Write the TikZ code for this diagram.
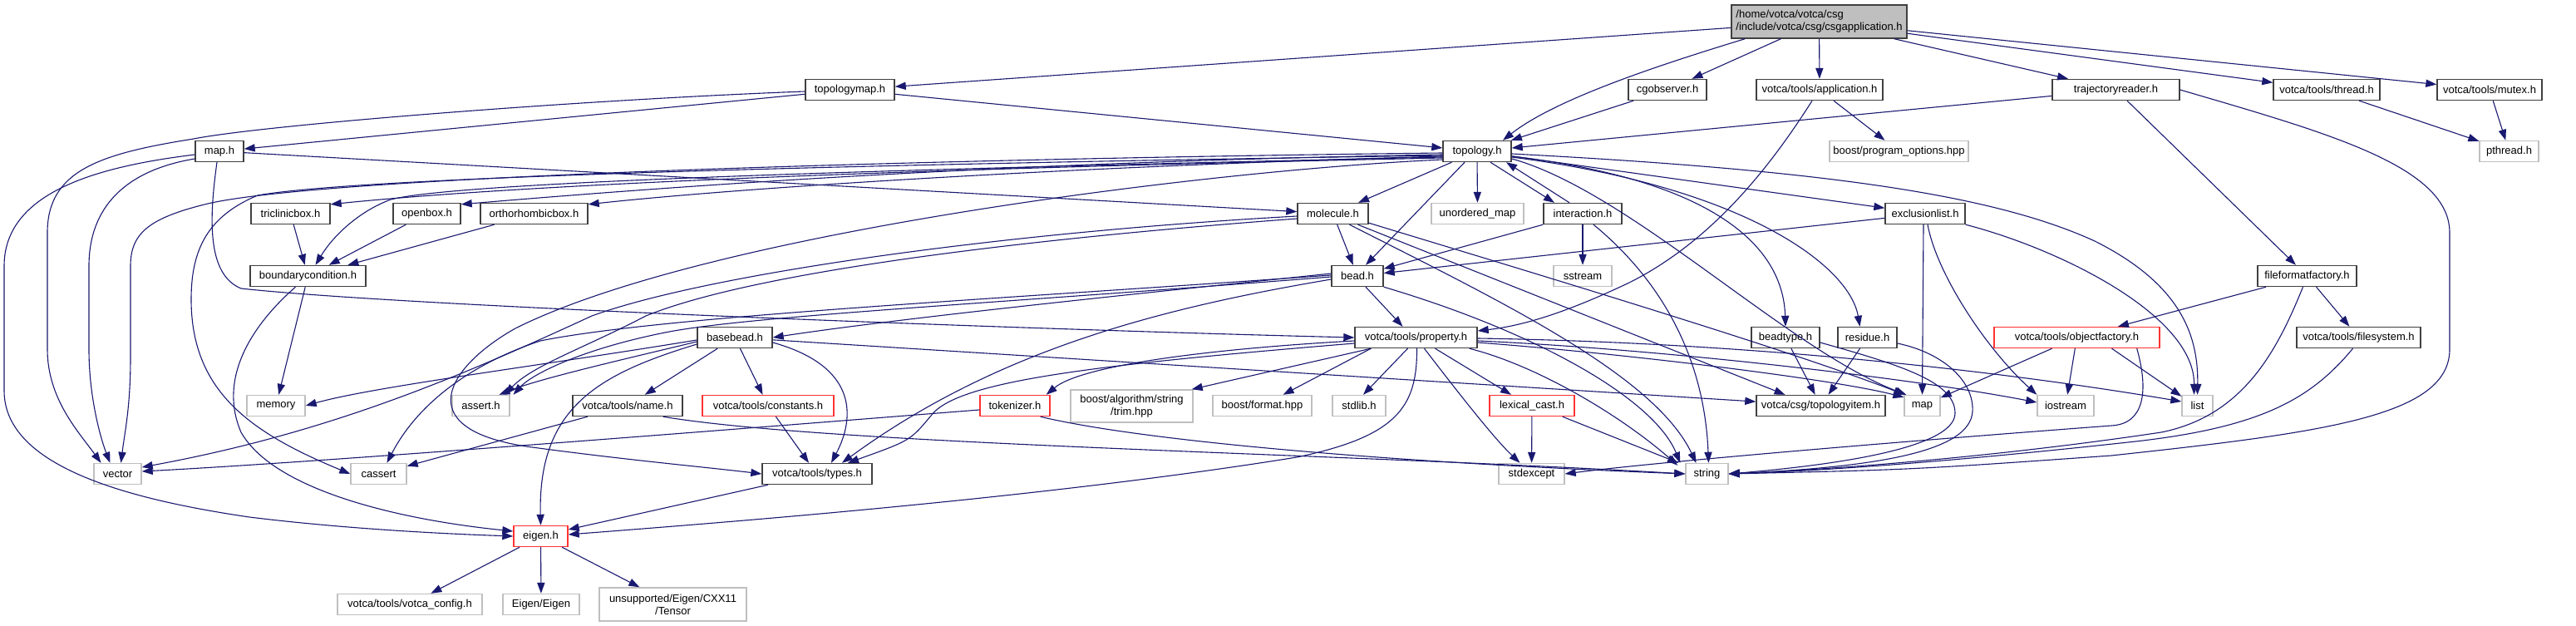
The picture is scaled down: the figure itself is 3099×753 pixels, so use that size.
\documentclass[tikz,border=0pt]{standalone}
\usepackage{fontspec}
\setmainfont{Liberation Sans}
\usetikzlibrary{arrows.meta,calc}
\definecolor{edgec}{HTML}{191970}
\definecolor{grayb}{HTML}{BFBFBF}
\definecolor{darkb}{HTML}{404040}
\definecolor{fillg}{HTML}{BFBFBF}
\definecolor{redb}{HTML}{FF3333}
\begin{document}
\begin{tikzpicture}[x=0.5pt,y=-0.5pt,
  nbase/.style={rectangle, inner sep=0pt, minimum height=12.5pt, font=\fontsize{6.5}{7.5}\selectfont, line width=0.7pt, fill=white},
  blk/.style={nbase, draw=darkb},
  gry/.style={nbase, draw=grayb},
  rdb/.style={nbase, draw=redb},
  bw/.style={minimum width=#1*0.5pt},
  dep/.style={draw=edgec, line width=0.55pt, -{Triangle[length=6.5pt,width=4.6pt]}},
]
\useasboundingbox[fill=white] (0,0) rectangle (3099,753);
% ---------------- nodes
\node[blk, fill=fillg, bw=211, minimum height=20pt, align=left] (csgapp) at (2188.5,26) {/home/votca/votca/csg\\/include/votca/csg/csgapplication.h};
\node[blk, bw=107] (tmap) at (1022.5,108) {topologymap.h};
\node[blk, bw=94] (cgobs) at (2006,108) {cgobserver.h};
\node[blk, bw=152] (app) at (2189,108) {votca/tools/application.h};
\node[blk, bw=153] (trajr) at (2545.5,108) {trajectoryreader.h};
\node[blk, bw=128] (thread) at (2799,108) {votca/tools/thread.h};
\node[blk, bw=126] (mutex) at (2995,108) {votca/tools/mutex.h};
\node[blk, bw=58] (maph) at (264,182) {map.h};
\node[blk, bw=82] (topo) at (1777,182) {topology.h};
\node[gry, bw=167] (progopt) at (2284.5,182) {boost/program\_options.hpp};
\node[gry, bw=71] (pthread) at (3018.5,182) {pthread.h};
\node[blk, bw=95] (tricl) at (349.5,257) {triclinicbox.h};
\node[blk, bw=81] (openbox) at (513.5,257) {openbox.h};
\node[blk, bw=129] (ortho) at (642.5,257) {orthorhombicbox.h};
\node[blk, bw=85] (molec) at (1603.5,257) {molecule.h};
\node[gry, bw=111] (umap) at (1777.5,257) {unordered\_map};
\node[blk, bw=94] (inter) at (1904,257) {interaction.h};
\node[blk, bw=96] (excl) at (2316,257) {exclusionlist.h};
\node[blk, bw=139] (bc) at (370.5,332) {boundarycondition.h};
\node[blk, bw=62] (bead) at (1633,332) {bead.h};
\node[gry, bw=70] (sstream) at (1904,332) {sstream};
\node[blk, bw=119] (fff) at (2775.5,332) {fileformatfactory.h};
\node[blk, bw=90] (basebead) at (884,406) {basebead.h};
\node[blk, bw=147] (prop) at (1703.5,406) {votca/tools/property.h};
\node[blk, bw=82] (beadtype) at (2148,406) {beadtype.h};
\node[blk, bw=71] (residue) at (2246.5,406) {residue.h};
\node[rdb, bw=199] (objf) at (2498.5,406) {votca/tools/objectfactory.h};
\node[blk, bw=149] (fs) at (2837.5,406) {votca/tools/filesystem.h};
\node[gry, bw=70] (memory) at (332,488) {memory};
\node[gry, bw=69] (asserth) at (578.5,488) {assert.h};
\node[blk, bw=132] (name) at (755,488) {votca/tools/name.h};
\node[rdb, bw=158] (consth) at (924,488) {votca/tools/constants.h};
\node[rdb, bw=84] (tok) at (1221,488) {tokenizer.h};
\node[gry, bw=147, minimum height=19.5pt, align=center] (trim) at (1361.5,488.5) {boost/algorithm/string\\/trim.hpp};
\node[gry, bw=119] (fmt) at (1518.5,488) {boost/format.hpp};
\node[gry, bw=64] (stdlib) at (1635,488) {stdlib.h};
\node[rdb, bw=102] (lex) at (1843,488) {lexical\_cast.h};
\node[blk, bw=155] (titem) at (2190.5,488) {votca/csg/topologyitem.h};
\node[gry, bw=43] (mapstd) at (2312.5,488) {map};
\node[gry, bw=68] (iostream) at (2485,488) {iostream};
\node[gry, bw=37] (list) at (2643.5,488) {list};
\node[gry, bw=57] (vector) at (141.5,570) {vector};
\node[gry, bw=67] (cassert) at (455.5,570) {cassert};
\node[blk, bw=132] (types) at (983,570) {votca/tools/types.h};
\node[gry, bw=79] (stdexc) at (1842.5,570) {stdexcept};
\node[gry, bw=51] (string) at (2053.5,570) {string};
\node[rdb, bw=65] (eigen) at (650.5,645) {eigen.h};
\node[gry, bw=174] (vconf) at (493,727) {votca/tools/votca\_config.h};
\node[gry, bw=92] (eigeneigen) at (651,727) {Eigen/Eigen};
\node[gry, bw=177, minimum height=20pt, align=center] (tensor) at (809.5,727) {unsupported/Eigen/CXX11\\/Tensor};
% ---------------- edges
% csgapplication.h
\draw[dep] (csgapp) -- (tmap);
\draw[dep] ($(csgapp.south west)+(17,0)$) .. controls (1990,80) and (1870,120) .. ($(topo.north)+(31,0)$);
\draw[dep] (csgapp) -- (cgobs);
\draw[dep] (csgapp) -- (app);
\draw[dep] (csgapp) -- (trajr);
\draw[dep] (csgapp) -- (thread);
\draw[dep] (csgapp) -- (mutex);
% topologymap.h
\draw[dep] (tmap) -- (maph);
\draw[dep] (tmap) -- (topo);
\draw[dep] ($(tmap.west)+(0,2)$) .. controls (700,120) and (320,150) .. (233,167) .. controls (120,185) and (57,205) .. (57,280) -- (57,420) .. controls (57,480) and (95,520) .. ($(vector.north)+(-20,0)$);
% map.h
\draw[dep] (maph) -- (molec);
\draw[dep] ($(maph.west)+(0,4)$) .. controls (120,200) and (5,230) .. (5,320) -- (5,470) .. controls (5,560) and (150,600) .. (300,622) .. controls (430,638) and (560,643) .. (eigen.west);
\draw[dep] ($(maph.south)+(-3,0)$) .. controls (252,260) and (248,330) .. (290,347) .. controls (500,370) and (1300,398) .. (prop.west);
\draw[dep] ($(maph.west)+(0,9)$) .. controls (150,205) and (107,250) .. (107,320) -- (107,420) .. controls (107,480) and (122,530) .. ($(vector.north)+(-9,0)$);
% cgobserver, application, trajectoryreader, thread, mutex
\draw[dep] (cgobs) -- (topo);
\draw[dep] ($(app.south)+(-9,0)$) .. controls (2130,200) and (2060,290) .. (1960,340) .. controls (1880,378) and (1830,392) .. ($(prop.east)+(0,-8)$);
\draw[dep] (app) -- (progopt);
\draw[dep] (trajr) -- (topo);
\draw[dep] (trajr) -- (fff);
\draw[dep] (trajr.east) .. controls (2800,160) and (2947,200) .. (2947,280) -- (2947,420) .. controls (2947,500) and (2800,520) .. (2540,548) .. controls (2300,565) .. (string.east);
\draw[dep] (thread) -- (pthread);
\draw[dep] (mutex) -- (pthread);
% topology.h
\draw[dep] ($(topo.west)+(0,2)$) .. controls (1200,190) and (400,210) .. (250,245) .. controls (180,262) and (157,280) .. (157,320) -- (157,430) .. controls (157,490) and (150,520) .. ($(vector.north)+(4,0)$);
\draw[dep] ($(topo.west)+(0,5)$) .. controls (1200,195) and (450,210) .. (310,235) .. controls (250,260) and (230,300) .. (230,360) .. controls (230,470) and (300,520) .. (cassert.west);
\draw[dep] ($(topo.west)+(0,7)$) .. controls (1000,205) and (550,220) .. (470,240) .. controls (430,255) and (400,285) .. ($(bc.north)+(9,0)$);
\draw[dep] ($(topo.west)+(0,8)$) .. controls (1000,205) and (600,225) .. ($(tricl.north east)+(0,2)$);
\draw[dep] ($(topo.west)+(0,4)$) .. controls (1200,195) and (800,225) .. ($(openbox.north east)+(0,2)$);
\draw[dep] ($(topo.west)+(0,6)$) .. controls (1300,200) and (900,225) .. ($(ortho.north east)+(0,2)$);
\draw[dep] ($(topo.west)+(0,10)$) .. controls (1450,205) and (850,280) .. (620,395) .. controls (540,440) and (490,515) .. (633,537) .. controls (750,553) and (850,562) .. (types.west);
\draw[dep] (topo) -- (molec);
\draw[dep] ($(topo.south)+(-15,0)$) -- ($(bead.north)+(10,0)$);
\draw[dep] (topo) -- (umap);
\draw[dep] ($(topo.south)+(16,0)$) -- ($(inter.north)+(-34,0)$);
\draw[dep] (topo) -- (excl);
\draw[dep] ($(topo.east)+(0,6)$) .. controls (2050,215) and (2145,290) .. (beadtype.north);
\draw[dep] ($(topo.east)+(0,7)$) .. controls (2100,225) and (2225,320) .. ($(residue.north)+(-9,0)$);
\draw[dep] ($(topo.east)+(0,3)$) .. controls (2200,205) and (2400,235) .. (2520,290) .. controls (2620,340) and (2645,400) .. (list.north);
\draw[dep] ($(topo.east)+(0,9)$) .. controls (1960,230) and (2150,420) .. ($(mapstd.north west)+(3,0)$);
% interaction.h
\draw[dep] ($(inter.north)+(-16,0)$) -- ($(topo.south)+(35,0)$);
\draw[dep] (inter) -- (bead);
\draw[dep] (inter) -- (sstream);
\draw[dep] ($(inter.south)+(13,0)$) .. controls (1990,330) and (2050,420) .. ($(string.north)+(2,0)$);
% molecule.h
\draw[dep] (molec) -- (bead);
\draw[dep] ($(molec.west)+(0,3)$) .. controls (1200,280) and (850,330) .. (712,380) .. controls (560,450) and (400,520) .. ($(vector.east)+(0,-8)$);
\draw[dep] ($(molec.west)+(0,6)$) .. controls (1200,290) and (900,330) .. (777,380) .. controls (700,420) and (640,440) .. ($(asserth.north)+(29,0)$);
\draw[dep] ($(molec.south)+(20,0)$) .. controls (1800,360) and (1990,450) .. ($(string.north)+(-13,0)$);
\draw[dep] ($(molec.south)+(30,0)$) -- ($(titem.north)+(-43,0)$);
\draw[dep] ($(molec.south east)+(0,-2)$) .. controls (1850,330) and (2150,420) .. ($(mapstd.north west)+(1,0)$);
% bead.h
\draw[dep] ($(bead.west)+(0,-3)$) .. controls (1450,345) and (1100,380) .. (basebead.east);
\draw[dep] ($(bead.south)+(10,0)$) -- ($(prop.north)+(-16,0)$);
\draw[dep] ($(bead.west)+(0,4)$) .. controls (1400,370) and (1200,420) .. ($(types.north)+(30,0)$);
\draw[dep] ($(bead.west)+(0,-1)$) .. controls (1200,360) and (800,380) .. (650,410) .. controls (560,440) and (500,490) .. ($(cassert.north)+(10,0)$);
\draw[dep] ($(bead.west)+(0,1)$) .. controls (1200,365) and (900,380) .. (800,400) .. controls (700,420) and (640,450) .. ($(asserth.north)+(39,0)$);
\draw[dep] (bead.south east) .. controls (1850,400) and (1990,480) .. ($(string.north west)+(-6,0)$);
% exclusionlist.h
\draw[dep] (excl) -- (bead);
\draw[dep] ($(excl.south)+(-2,0)$) -- (mapstd.north);
\draw[dep] ($(excl.south)+(3,0)$) .. controls (2330,330) and (2390,420) .. (iostream.north west);
\draw[dep] (excl.south east) .. controls (2480,300) and (2640,380) .. ($(list.north)+(-4,0)$);
% beadtype, residue
\draw[dep] (beadtype) -- (titem);
\draw[dep] ($(beadtype.east)+(0,6)$) .. controls (2290,440) and (2352,460) .. (2352,497) .. controls (2352,540) and (2200,560) .. (string.east);
\draw[dep] (residue) -- (titem);
\draw[dep] ($(residue.east)+(0,7)$) .. controls (2340,425) and (2375,460) .. (2373,495) .. controls (2370,545) and (2250,562) .. (string.east);
% basebead.h
\draw[dep] (basebead) -- (titem);
\draw[dep] ($(basebead.east)+(0,6)$) .. controls (1030,440) and (1030,500) .. ($(types.north)+(17,0)$);
\draw[dep] ($(basebead.west)+(0,8)$) .. controls (720,450) and (647,490) .. (eigen.north);
\draw[dep] ($(basebead.west)+(0,5)$) .. controls (760,430) and (650,455) .. ($(asserth.north)+(22,0)$);
\draw[dep] ($(basebead.west)+(0,3)$) .. controls (650,440) and (450,465) .. (memory.east);
\draw[dep] (basebead) -- (name);
\draw[dep] (basebead) -- (consth);
% property.h
\draw[dep] ($(prop.west)+(0,4)$) .. controls (1450,420) and (1300,440) .. ($(tok.north east)+(-5,0)$);
\draw[dep] ($(prop.west)+(0,7)$) .. controls (1300,440) and (1150,460) .. (1120,500) .. controls (1095,530) .. ($(types.north)+(37,0)$);
\draw[dep] ($(prop.south west)+(20,0)$) -- ($(trim.north east)+(-2,0)$);
\draw[dep] ($(prop.south west)+(20,0)$) -- (fmt);
\draw[dep] ($(prop.south)+(-10,0)$) -- ($(stdlib.north)+(5,0)$);
\draw[dep] ($(prop.south)+(23,0)$) -- ($(lex.north)+(-25,0)$);
\draw[dep] ($(prop.south)+(10,0)$) .. controls (1760,480) and (1800,530) .. ($(stdexc.north)+(-14,0)$);
\draw[dep] ($(prop.south)+(1,0)$) .. controls (1705,490) and (1680,525) .. (1560,550) .. controls (1250,600) and (850,630) .. ($(eigen.east)+(0,-2)$);
\draw[dep] ($(prop.south east)+(-10,0)$) .. controls (1850,440) and (1950,500) .. ($(string.north west)+(-9,3)$);
\draw[dep] ($(prop.east)+(0,1)$) .. controls (2100,412) and (2400,445) .. ($(list.west)+(0,-5)$);
\draw[dep] ($(prop.east)+(0,4)$) .. controls (2000,420) and (2300,455) .. ($(iostream.west)+(0,-4)$);
\draw[dep] ($(prop.east)+(0,6)$) .. controls (1950,425) and (2200,455) .. ($(mapstd.north west)+(0,3)$);
% objectfactory, filesystem, fileformatfactory
\draw[dep] (fff) -- (objf);
\draw[dep] (fff) -- (fs);
\draw[dep] ($(fff.south)+(-5,0)$) .. controls (2740,420) and (2700,500) .. (2600,520) .. controls (2400,550) and (2200,565) .. (string.east);
\draw[dep] ($(fs.south)+(-7,0)$) .. controls (2780,480) and (2720,515) .. (2560,532) .. controls (2350,555) and (2200,566) .. (string.east);
\draw[dep] (objf) -- (mapstd);
\draw[dep] (objf) -- (iostream);
\draw[dep] ($(objf.south)+(42,0)$) -- ($(list.north west)+(0,2)$);
\draw[dep] ($(objf.south east)+(-28,0)$) .. controls (2585,470) and (2580,510) .. (2540,512) .. controls (2300,530) and (2000,555) .. (stdexc.east);
% name, tokenizer, lexical_cast, constants, types
\draw[dep] (name) -- (cassert);
\draw[dep] ($(name.south east)+(-24,0)$) .. controls (1000,535) and (1600,545) .. (string.west);
\draw[dep] ($(tok.west)+(0,5)$) .. controls (900,515) and (400,555) .. ($(vector.east)+(0,-3)$);
\draw[dep] ($(tok.south east)+(-12,0)$) .. controls (1350,525) and (1600,553) .. (string.west);
\draw[dep] (lex) -- (stdexc);
\draw[dep] ($(lex.south east)+(-15,0)$) -- ($(string.north west)+(-8,0)$);
\draw[dep] (consth) -- ($(types.north)+(-10,0)$);
\draw[dep] (types) -- ($(eigen.east)+(0,-8)$);
% boundarycondition and boxes
\draw[dep] (bc) -- (memory);
\draw[dep] ($(bc.south)+(-15,0)$) .. controls (310,385) and (260,450) .. (290,520) .. controls (330,590) and (480,625) .. ($(eigen.west)+(0,-6)$);
\draw[dep] (tricl) -- (bc);
\draw[dep] (openbox) -- (bc);
\draw[dep] (ortho) -- (bc);
% eigen.h
\draw[dep] (eigen) -- (vconf);
\draw[dep] (eigen) -- (eigeneigen);
\draw[dep] (eigen) -- (tensor);
\end{tikzpicture}
\end{document}
